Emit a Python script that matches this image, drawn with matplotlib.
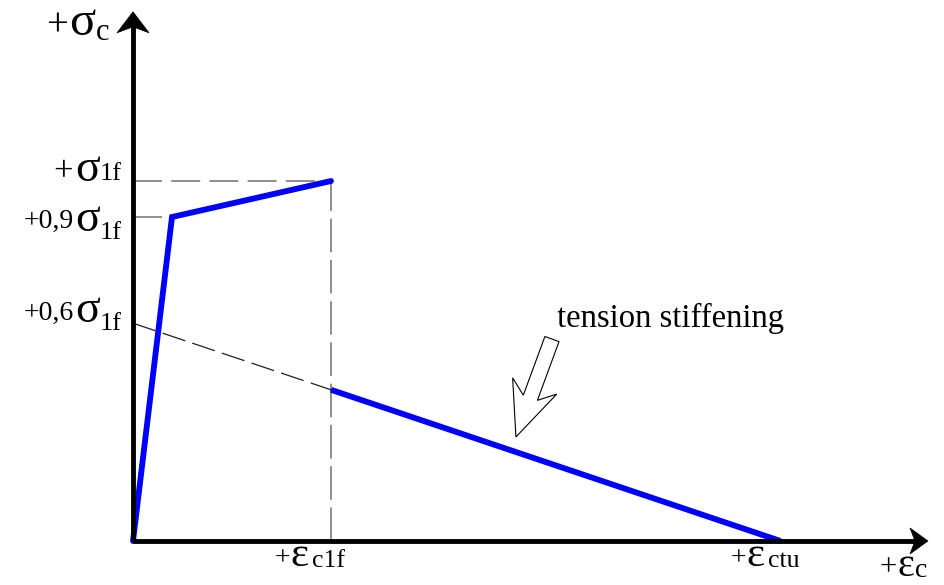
import matplotlib
matplotlib.use("Agg")
import matplotlib.pyplot as plt
import numpy as np
from matplotlib.patches import Polygon
from matplotlib.transforms import IdentityTransform

plt.rcParams['font.family'] = ['Liberation Serif', 'DejaVu Serif']

# ---- data (normalised: strain / eps_c1f, stress / sigma_1f) ----
pre_strain = [0.0, 0.197, 1.0]
pre_stress = [0.0, 0.9, 1.0]
ts_strain = [1.0, 3.27]
ts_stress = [0.42, 0.0]
ts_ext_strain = [0.0, 1.0]
ts_ext_stress = [0.605, 0.42]
stress_levels = [1.0, 0.9, 0.6]
strain_marks = [1.0, 3.27]
x_axis_end = 4.015
y_axis_end = 1.47

W, H = 945, 585
fig = plt.figure(figsize=(W / 100, H / 100), dpi=100)
ax = fig.add_axes([0, 0, 1, 1])
ax.set_xlim(-133 / 198, 812 / 198)
ax.set_ylim(-44 / 360, 541 / 360)
ax.axis('off')

# dashed guide lines
gray = '#707070'
ax.plot([0, pre_strain[2]], [stress_levels[0]] * 2, color=gray, lw=1.1,
        dashes=(19, 6), zorder=1)
ax.plot([0, pre_strain[1]], [stress_levels[1]] * 2, color=gray, lw=1.1,
        dashes=(19, 6), zorder=1)
ax.plot([strain_marks[0]] * 2, [0, pre_stress[2]], color=gray, lw=1.1,
        dashes=(22, 5), zorder=1)
ax.plot(ts_ext_strain, ts_ext_stress, color='#202020', lw=0.9,
        dashes=(19, 6), zorder=1)

# constitutive law
ax.plot(pre_strain, pre_stress, color='#0000ff', lw=4.2,
        solid_capstyle='round', solid_joinstyle='miter', zorder=3)
ax.plot(ts_strain, ts_stress, color='#0000ff', lw=4.2,
        solid_capstyle='butt', zorder=3)

# axes
ax.plot([0, x_axis_end - 0.06], [0, 0], color='black', lw=3.5,
        solid_capstyle='butt', zorder=4)
ax.plot([0, 0], [0, y_axis_end - 0.03], color='black', lw=3.5,
        solid_capstyle='butt', zorder=4)


def arrow_head(tip, direction, length, half, notch):
    t = ax.transData.transform(tip)
    d = np.asarray(direction, float)
    d /= np.hypot(*d)
    n = np.array([-d[1], d[0]])
    pts = [t, t - d * length + n * half, t - d * notch,
           t - d * length - n * half]
    ax.add_patch(Polygon(pts, closed=True, transform=IdentityTransform(),
                         facecolor='black', edgecolor='black', lw=0.5,
                         zorder=5))


fig.canvas.draw()
arrow_head((x_axis_end, 0), (1, 0), 18, 13, 13)
arrow_head((0, y_axis_end), (0, 1), 21, 16, 15)

# block arrow "tension stiffening"
tail = ax.transData.transform((2.116, 0.561))
tip = ax.transData.transform((1.934, 0.289))
d = tip - tail
L = np.hypot(*d)
d = d / L
n = np.array([-d[1], d[0]])
shape = [(0, -7.5), (62.6, -7.5), (50, -23.5), (L, 0), (50, 23.5),
         (62.6, 7.5), (0, 7.5)]
pts = [tail + d * a + n * b for a, b in shape]
ax.add_patch(Polygon(pts, closed=True, transform=IdentityTransform(),
                     facecolor='white', edgecolor='black', lw=0.8, zorder=6))
ax.text((557 - 133) / 198, (541 - 327) / 360, 'tension stiffening',
        fontsize=23.5, ha='left', va='baseline', zorder=7)


# compound labels: pieces (text, size, dx_px, dy_px)
def compound(x, y, pieces, align='left'):
    seq = pieces if align == 'left' else pieces[::-1]
    prev = None
    for txt, size, dx, dy in seq:
        if prev is None:
            xy, xyc = (x, y), 'data'
        else:
            xy, xyc = ((1 if align == 'left' else 0), y), (prev, 'data')
        prev = ax.annotate(txt, xy=xy, xycoords=xyc, xytext=(dx, dy),
                           textcoords='offset pixels', fontsize=size,
                           ha=align, va='baseline', zorder=7)


def px(xp, yp):
    return (xp - 133) / 198, (541 - yp) / 360


# vertical axis title
compound(*px(46, 35), [('+', 28, 0, 0), ('σ', 35, 1, 0), ('c', 22, 1, -5)])
# stress labels
compound(*px(122, 181), [('+', 25, -2, 0), ('σ', 33, 0, 0), ('1f', 19, 0, 1)],
         align='right')
compound(*px(122, 231), [('+0,9', 20, -1, 3), ('σ', 33, 0, 0),
                         ('1f', 19, 0, -8)], align='right')
compound(*px(122, 322), [('+0,6', 20, -1, 2), ('σ', 33, 0, 0),
                         ('1f', 19, 0, -8)], align='right')
# strain labels
compound(*px(275, 566), [('+', 20, 0, 1), ('ε', 31, 0, 0),
                         ('c1f', 18.5, 3, -1)])
compound(*px(731, 566), [('+', 20, 0, 1), ('ε', 31, 0, 0),
                         ('ctu', 18.5, 3, -1)])
compound(*px(880, 576), [('+', 22, 0, 1), ('ε', 29, 0, 0),
                         ('c', 20, 1, -1)])

fig.savefig('out.png', dpi=100)
